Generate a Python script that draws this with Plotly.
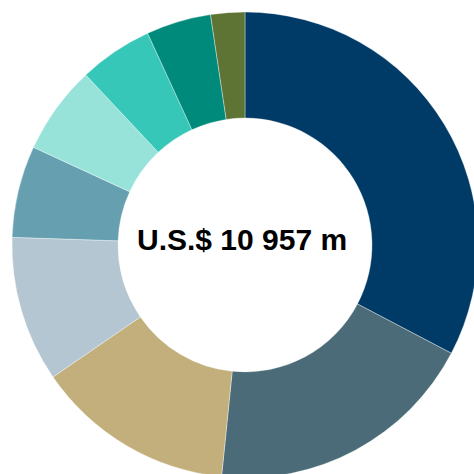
import plotly.graph_objects as go

labels = ["Segment A", "Segment B", "Segment C", "Segment D", "Segment E",
          "Segment F", "Segment G", "Segment H", "Segment I"]
values = [3582, 2073, 1513, 1108, 697, 673, 560, 493, 259]
colors = ["#003A66", "#4A6B77", "#C2AF7B", "#B3C6D2", "#669FB0",
          "#97E3DA", "#36C7B8", "#008A7C", "#5E7434"]
center_text = "U.S.$ 10 957 m"

fig = go.Figure(go.Pie(
    labels=labels,
    values=values,
    hole=0.545,
    sort=False,
    direction="clockwise",
    rotation=0,
    marker=dict(colors=colors, line=dict(color="rgba(255,255,255,0.6)", width=0.6)),
    textinfo="none",
    showlegend=False,
))

fig.add_annotation(
    text=center_text, x=0.4925, y=0.511, xref="paper", yref="paper",
    showarrow=False,
    font=dict(family="Liberation Sans, Arial, sans-serif", size=30, color="#000000", weight="bold"),
)

fig.update_layout(
    width=478, height=478,
    margin=dict(l=12, t=12, r=0, b=0),
    paper_bgcolor="white", plot_bgcolor="white",
)

fig.write_html("out.html", config={"displayModeBar": False},
               post_script="document.body.style.margin='0';document.body.style.overflow='hidden';document.documentElement.style.overflow='hidden';")
